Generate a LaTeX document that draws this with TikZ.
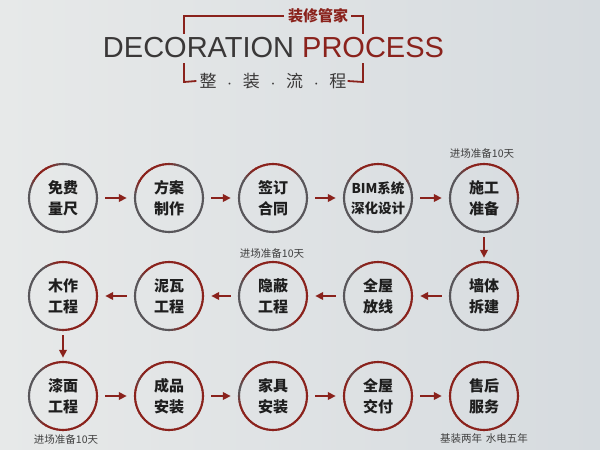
\documentclass[tikz,border=0pt]{standalone}
\usepackage{fontspec}
\setmainfont{Liberation Sans}
\newfontfamily\cjk{Noto Sans CJK SC}
\usetikzlibrary{arrows.meta}
\definecolor{cred}{RGB}{138,34,28}
\definecolor{cgray}{RGB}{88,86,90}
\definecolor{ctext}{RGB}{30,30,30}
\definecolor{ctitle}{RGB}{58,56,56}
\definecolor{bgl}{RGB}{231,233,233}
\definecolor{bgr}{RGB}{214,219,223}
\newcommand\ringdraw[4]{%
  \foreach \kk in {0,...,71}{%
    \pgfmathsetmacro\rth{\kk*5+2.5}%
    \pgfmathsetmacro\dd{Mod(\rth-(#3),360)}%
    \pgfmathtruncatemacro\rr{\dd<(#4)+0.01 ? 100 : max(0,100-min(\dd-(#4),360-\dd)*4)}%
    \draw[ringline, color=cred!\rr!cgray] (#1,#2) ++(\kk*5-0.6:34pt) arc[start angle=\kk*5-0.6, end angle=\kk*5+5.6, radius=34pt];
  }%
}
\begin{document}
\begin{tikzpicture}[x=1pt,y=-1pt,
  stepnode/.style={circle, minimum size=70pt, inner sep=0pt, font=\cjk\bfseries\fontsize{15}{21}\selectfont, text=ctext, align=center},
  flow/.style={cred, line width=1.8pt, -{Triangle[length=8pt,width=7.5pt]}},
  hflow/.style={flow, shorten <=7pt, shorten >=7pt},
  vflow/.style={flow, shorten <=4pt, shorten >=3pt},
  note/.style={font=\cjk\fontsize{10.5}{12}\selectfont, text=ctext!85, inner sep=0pt},
  bracket/.style={cred, line width=1.8pt},
  ringline/.style={line width=2.1pt}]

\shade[left color=bgl, right color=bgr] (0,0) rectangle (600,450);
\useasboundingbox (0,0) rectangle (600,450);

% header
\node[anchor=base, font=\fontsize{29}{30}\selectfont, inner sep=0pt] (title) at (273.5,57)
  {\textcolor{ctitle}{DECORATION} \textcolor{cred}{PROCESS}};
\node[font=\cjk\bfseries\fontsize{15}{15}\selectfont, text=cred, inner sep=0pt] (brand) at (318,16) {装修管家};
\node[font=\cjk\fontsize{17}{17}\selectfont, text=ctitle, inner sep=0pt] (sub) at (273,81)
  {整\makebox[26.3pt]{\small·}装\makebox[26.3pt]{\small·}流\makebox[26.3pt]{\small·}程};
\draw[bracket] ([xshift=-4pt]brand.west) -- (184,16) -- (184,34);
\draw[bracket] ([xshift=3pt]brand.east) -- (363,16) -- (363,34);
\draw[bracket] ([xshift=-3pt]sub.west) -- (184,82) -- (184,63);
\draw[bracket] ([xshift=1pt]sub.east) -- (363,82) -- (363,63);

% steps
\node[stepnode] (c1) at (63,198) {免费\\量尺};
\node[stepnode] (c2) at (169,198) {方案\\制作};
\node[stepnode] (c3) at (273,198) {签订\\合同};
\node[stepnode, font=\cjk\bfseries\fontsize{13.5}{20}\selectfont] (c4) at (378,198) {BIM系统\\深化设计};
\node[stepnode] (c5) at (484,198) {施工\\准备};
\node[stepnode] (c6) at (484,296) {墙体\\拆建};
\node[stepnode] (c7) at (378,296) {全屋\\放线};
\node[stepnode] (c8) at (273,296) {隐蔽\\工程};
\node[stepnode] (c9) at (169,296) {泥瓦\\工程};
\node[stepnode] (c10) at (63,296) {木作\\工程};
\node[stepnode] (c11) at (63,396) {漆面\\工程};
\node[stepnode] (c12) at (169,396) {成品\\安装};
\node[stepnode] (c13) at (273,396) {家具\\安装};
\node[stepnode] (c14) at (378,396) {全屋\\交付};
\node[stepnode] (c15) at (484,396) {售后\\服务};

% rings (gray to red)
\ringdraw{63}{198}{115}{25}
\ringdraw{169}{198}{95}{55}
\ringdraw{273}{198}{62}{63}
\ringdraw{378}{198}{45}{85}
\ringdraw{484}{198}{10}{105}
\ringdraw{484}{296}{-20}{140}
\ringdraw{378}{296}{-40}{155}
\ringdraw{273}{296}{-50}{185}
\ringdraw{169}{296}{-65}{195}
\ringdraw{63}{296}{-85}{185}
\ringdraw{63}{396}{-120}{230}
\ringdraw{169}{396}{170}{330}
\ringdraw{273}{396}{200}{300}
\ringdraw{378}{396}{160}{320}
\ringdraw{484}{396}{0}{360}

% connectors
\draw[hflow] (c1) -- (c2);
\draw[hflow] (c2) -- (c3);
\draw[hflow] (c3) -- (c4);
\draw[hflow] (c4) -- (c5);
\draw[vflow] (c5) -- (c6);
\draw[hflow] (c6) -- (c7);
\draw[hflow] (c7) -- (c8);
\draw[hflow] (c8) -- (c9);
\draw[hflow] (c9) -- (c10);
\draw[vflow] (c10) -- (c11);
\draw[hflow] (c11) -- (c12);
\draw[hflow] (c12) -- (c13);
\draw[hflow] (c13) -- (c14);
\draw[hflow] (c14) -- (c15);

% notes
\node[note] (n1) at (482,153) {进场准备10天};
\node[note] (n2) at (272,253) {进场准备10天};
\node[note] (n3) at (66,439) {进场准备10天};
\node[note] (n4) at (484,439) {基装两年\hspace{4pt}水电五年};
\end{tikzpicture}
\end{document}
